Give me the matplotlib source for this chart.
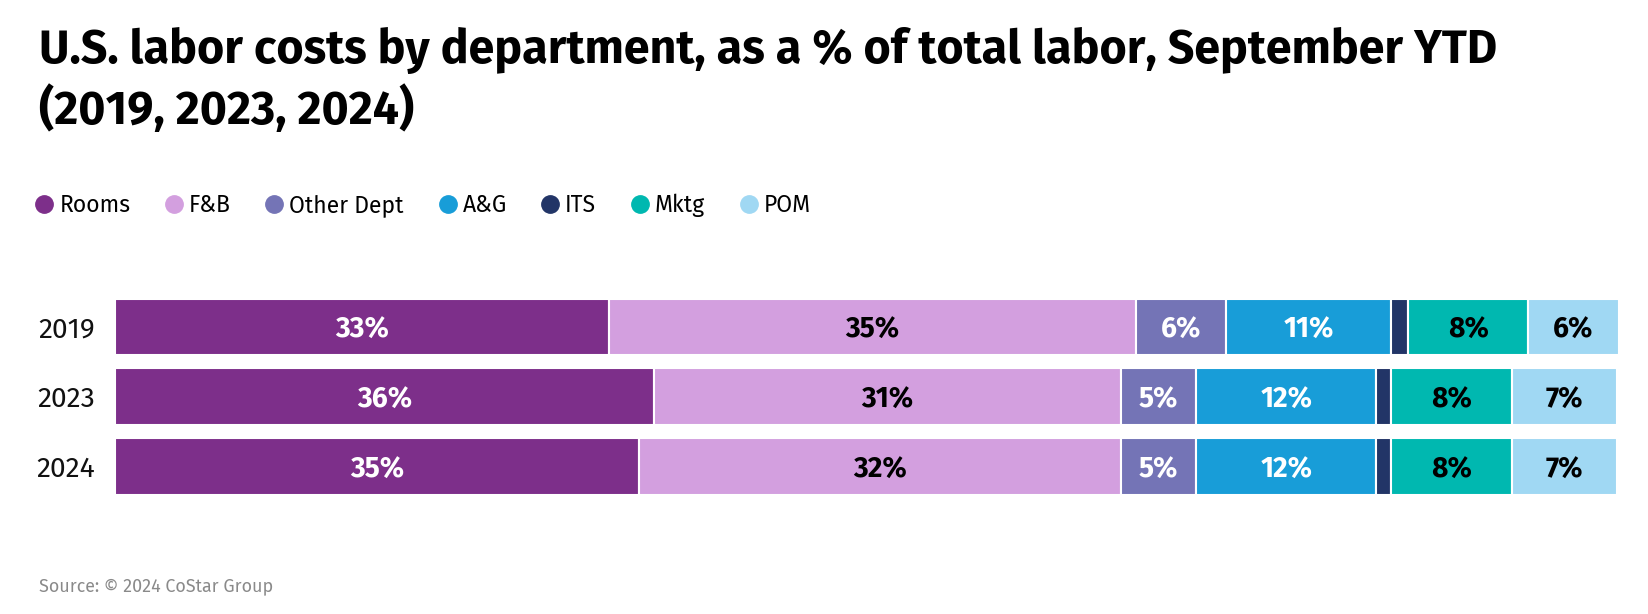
import matplotlib
matplotlib.use("Agg")
import matplotlib.pyplot as plt
from matplotlib.lines import Line2D
import numpy as np

years = ["2019", "2023", "2024"]
departments = ["Rooms", "F&B", "Other Dept", "A&G", "ITS", "Mktg", "POM"]
rooms = [32.9, 35.9, 34.9]
fnb = [35.0, 31.0, 32.0]
other_dept = [6.0, 5.0, 5.0]
ag = [11.0, 12.0, 12.0]
its = [1.1, 1.0, 1.0]
mktg = [8.0, 8.0, 8.0]
pom = [6.0, 7.0, 7.0]
series = [rooms, fnb, other_dept, ag, its, mktg, pom]
show_label = [True, True, True, True, False, True, True]

title_lines = ["U.S. labor costs by department, as a % of total labor, September YTD",
               "(2019, 2023, 2024)"]
source_text = "Source: © 2024 CoStar Group"

colors = ["#7d2f8a", "#d39fdf", "#7474b6", "#189dd8", "#223567", "#00b8b0", "#a0d8f3"]
label_colors = ["white", "black", "white", "white", "white", "black", "black"]

FONT = ["Source Sans Pro", "Fira Sans", "Lato", "DejaVu Sans"]
plt.rcParams["font.family"] = FONT

W, H = 1648, 614
fig = plt.figure(figsize=(W / 100, H / 100), dpi=100)
renderer = fig.canvas.get_renderer()


def fitted_size(text, target_px, base=20, **kw):
    t = fig.text(0, 0, text, fontsize=base, **kw)
    w = t.get_window_extent(renderer).width
    t.remove()
    return base * target_px / w


title_fs = fitted_size(title_lines[0], 1459, base=30, fontweight="bold")
legend_fs = fitted_size("Other Dept", 114, base=18)
year_fs = fitted_size("2019", 57, base=18)
lab_fs = fitted_size("33%", 53.5, base=18, fontweight="bold")
src_fs = fitted_size(source_text, 234, base=13)

ax = fig.add_axes([114.5 / W, 1 - 495 / H, (1618.6 - 114.5) / W, (495 - 298.5) / H])

y = np.arange(len(years))
left = np.zeros(len(years))
for vals, col, lc, show, name in zip(series, colors, label_colors, show_label, departments):
    ax.barh(y, vals, left=left, height=0.81, color=col, edgecolor="white",
            linewidth=1.5, label=name)
    if show:
        for yi, (l, v) in enumerate(zip(left, vals)):
            ax.text(l + v / 2, yi, f"{round(v):.0f}%", ha="center", va="center_baseline",
                    color=lc, fontsize=lab_fs, fontweight="bold")
    left = left + np.array(vals)

ax.set_xlim(0, left.max())
ax.set_ylim(len(years) - 1 + 0.405, -0.405)
ax.set_yticks(y)
ax.set_yticklabels(years, fontsize=year_fs, color="#111111", va="center_baseline")
ax.tick_params(axis="y", length=0, pad=14)
ax.set_xticks([])
for s in ax.spines.values():
    s.set_visible(False)

# Title
fig.text(39 / W, 1 - 63 / H, title_lines[0], ha="left", va="baseline",
         fontsize=title_fs, fontweight="bold", color="black")
fig.text(39 / W, 1 - 124 / H, title_lines[1], ha="left", va="baseline",
         fontsize=title_fs, fontweight="bold", color="black")

# Legend
handles = [Line2D([0], [0], marker="o", linestyle="none", markersize=12.5,
                  markerfacecolor=c, markeredgecolor=c) for c in colors]
fig.legend(handles, departments, loc="center left", bbox_to_anchor=(33 / W, 1 - 205 / H),
           ncol=7, frameon=False, fontsize=legend_fs, handletextpad=0.15, columnspacing=1.4,
           handlelength=1.0, borderaxespad=0, borderpad=0)

fig.text(39 / W, 1 - 586 / H, source_text, ha="left", va="center",
         fontsize=src_fs, color="#8a8a8a")

fig.savefig("out.png", dpi=100, facecolor="white")
